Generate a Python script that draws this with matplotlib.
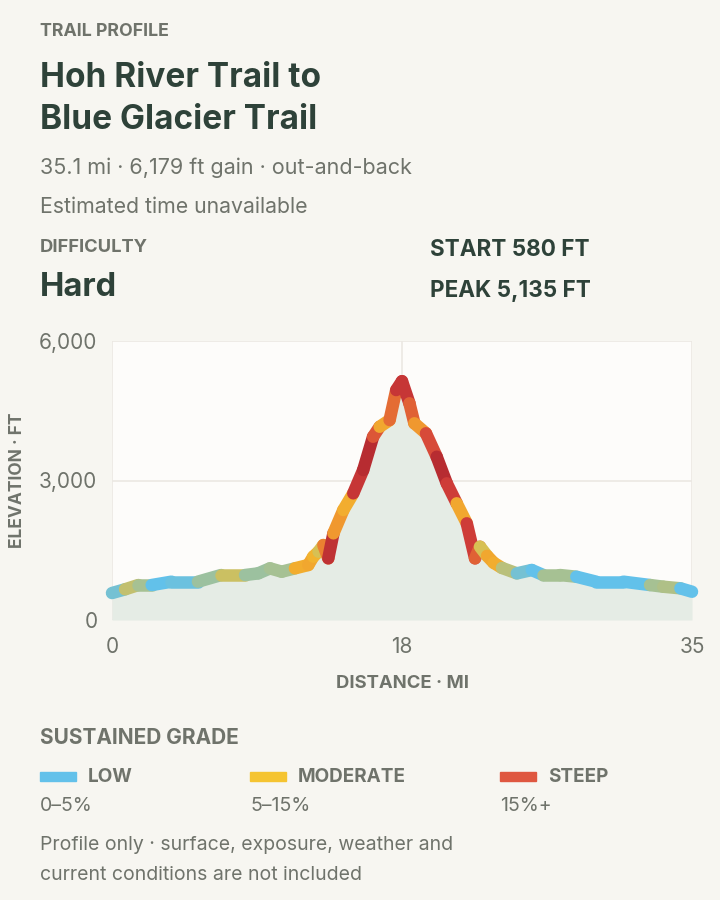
import numpy as np
import matplotlib
matplotlib.use("Agg")
import matplotlib.pyplot as plt
from matplotlib.collections import LineCollection
from matplotlib.colors import LinearSegmentedColormap, Normalize

plt.rcParams['font.family'] = ['Inter', 'DejaVu Sans']

# profile (miles, feet, sustained grade %)
distance = [0, 0.79, 1.59, 2.4, 3.6, 5.2, 6.6, 8.05, 8.85, 9.56, 10.27, 11.07,
            11.88, 12.18, 12.5, 12.79, 13.09, 13.4, 14.0, 14.6, 15.2, 15.8,
            16.2, 16.8, 17.2, 17.55, 18.0, 18.3, 19.0, 19.65, 20.26, 20.86,
            21.47, 21.97, 22.27, 22.7, 23.1, 23.6, 24.5, 25.4, 26.1, 27.1,
            28.1, 29.3, 30.95, 32.56, 33.36, 34.4, 35.1]
elevation = [580, 660, 752, 752, 824, 824, 967, 967, 1003, 1111, 1039, 1111,
             1183, 1362, 1469, 1612, 1326, 1864, 2365, 2724, 3225, 3941,
             4156, 4300, 4945, 5135, 4660, 4230, 4015, 3511, 2939, 2509,
             2079, 1326, 1576, 1380, 1230, 1120, 1003, 1075, 967, 967,
             931, 824, 824, 752, 716, 681, 608]
grade = [2, 5, 10, 2, 2, 4, 7, 9, 2, 9, 3, 9,
         14, 10, 12, 5, 24, 18, 8, 15, 25, 20,
         13, 11, 20, 20, 20, 12, 14, 20, 25, 12,
         12, 25, 7, 10, 14, 9, 5, 2, 3, 9,
         3, 2, 2, 2, 10, 3, 2]

total_mi = 35.1
x_ticks = [0, total_mi / 2, total_mi]
x_tick_labels = ["0", "18", "35"]
y_ticks = [0, 3000, 6000]
y_tick_labels = ["0", "3,000", "6,000"]

legend_names = ["LOW", "MODERATE", "STEEP"]
legend_ranges = ["0–5%", "5–15%", "15%+"]
legend_colors = ["#63c1ea", "#f5c431", "#df5740"]

BG = "#f7f6f1"
DARK = "#2e4239"
GREY = "#6f736b"

fig = plt.figure(figsize=(7.2, 9), dpi=100, facecolor=BG)

def px(x, y):
    # pixel position (from top left) -> figure fraction
    return x / 720, 1 - y / 900

# header
fig.text(*px(40, 31), "TRAIL PROFILE", fontsize=12.8, fontweight='bold', color=GREY, va='center')
fig.text(*px(40, 78), "Hoh River Trail to", fontsize=24, fontweight='bold', color=DARK, va='center')
fig.text(*px(40, 120), "Blue Glacier Trail", fontsize=24, fontweight='bold', color=DARK, va='center')
fig.text(*px(40, 168), "35.1 mi · 6,179 ft gain · out-and-back", fontsize=15.5, color=GREY, va='center')
fig.text(*px(40, 207), "Estimated time unavailable", fontsize=15.3, color=GREY, va='center')
fig.text(*px(40, 247), "DIFFICULTY", fontsize=13.2, fontweight='bold', color=GREY, va='center')
fig.text(*px(40, 287), "Hard", fontsize=23.5, fontweight='bold', color=DARK, va='center')
fig.text(*px(430, 250), "START 580 FT", fontsize=16.2, fontweight='bold', color=DARK, va='center')
fig.text(*px(430, 291), "PEAK 5,135 FT", fontsize=16.2, fontweight='bold', color=DARK, va='center')

# chart
ax = fig.add_axes([112 / 720, 1 - 620 / 900, 580 / 720, 279 / 900])
ax.set_facecolor("#fdfcfa")
ax.set_xlim(0, total_mi)
ax.set_ylim(0, 6000)
ax.fill_between(distance, 0, elevation, color="#e5ece5", lw=0, zorder=1)

cmap = LinearSegmentedColormap.from_list("grade", [
    (0.0, "#5fc3ec"), (0.1, "#63c1ea"), (0.4, "#f3c02f"),
    (0.56, "#ef8c2f"), (0.7, "#d4403a"), (1.0, "#a9222d")])
norm = Normalize(0, 25)
pts = np.column_stack([distance, elevation])
segs = np.stack([pts[:-1], pts[1:]], axis=1)
g = np.array(grade, dtype=float)
seg_grade = (g[:-1] + g[1:]) / 2
lc = LineCollection(segs, colors=cmap(norm(seg_grade)), linewidths=9,
                    capstyle='round', joinstyle='round', zorder=3, clip_on=False)
ax.add_collection(lc)

ax.set_xticks(x_ticks)
ax.set_xticklabels(x_tick_labels)
ax.set_yticks(y_ticks)
ax.set_yticklabels(y_tick_labels)
ax.grid(True, color="#ebe8e3", lw=1.2, zorder=0)
ax.set_axisbelow(True)
for s in ax.spines.values():
    s.set_visible(False)
ax.tick_params(length=0, labelsize=15, labelcolor=GREY)
ax.tick_params(axis='y', pad=10.5)
ax.tick_params(axis='x', pad=12)
fig.text(*px(18, 480), "ELEVATION · FT", fontsize=12.5, fontweight='bold', color=GREY,
         rotation=90, ha='center', va='center')
fig.text(*px(402, 684), "DISTANCE · MI", fontsize=13.3, fontweight='bold', color=GREY,
         ha='center', va='center')

# legend
fig.text(*px(40, 738), "SUSTAINED GRADE", fontsize=15, fontweight='bold', color=GREY, va='center')
legend_x = [40, 250, 500]
for x0, name, rng, col in zip(legend_x, legend_names, legend_ranges, legend_colors):
    fig.patches.append(plt.Rectangle(px(x0, 781), 36 / 720, 9 / 900, transform=fig.transFigure,
                                     color=col, figure=fig))
    fig.text(*px(x0 + 48, 777), name, fontsize=13.6, fontweight='bold', color=GREY, va='center')
    fig.text(*px(x0, 806), rng, fontsize=14, color=GREY, va='center')

fig.text(*px(40, 845), "Profile only · surface, exposure, weather and", fontsize=14, color=GREY, va='center')
fig.text(*px(40, 875), "current conditions are not included", fontsize=14, color=GREY, va='center')

fig.savefig("out.png", dpi=100, facecolor=BG)
